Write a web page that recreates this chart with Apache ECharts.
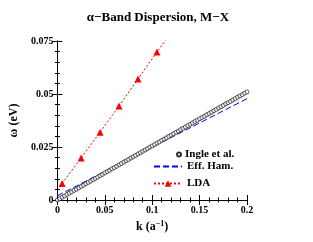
<!DOCTYPE html>
<html><head><meta charset="utf-8">
<script src="https://cdn.jsdelivr.net/npm/echarts@6/dist/echarts.min.js"></script>
<style>html,body{margin:0;padding:0;background:#fff}#c{width:313px;height:242px}</style>
</head><body><div id="c"></div>
<script>
var xTicks = [0, 0.05, 0.1, 0.15, 0.2];
var yTicks = [0, 0.025, 0.05, 0.075];
var ingleK = [0,0.0025,0.005,0.0075,0.01,0.0125,0.015,0.0175,0.02,0.0225,0.025,0.0275,0.03,0.0325,0.035,0.0375,0.04,0.0425,0.045,0.0475,0.05,0.0525,0.055,0.0575,0.06,0.0625,0.065,0.0675,0.07,0.0725,0.075,0.0775,0.08,0.0825,0.085,0.0875,0.09,0.0925,0.095,0.0975,0.1,0.1025,0.105,0.1075,0.11,0.1125,0.115,0.1175,0.12,0.1225,0.125,0.1275,0.13,0.1325,0.135,0.1375,0.14,0.1425,0.145,0.1475,0.15,0.1525,0.155,0.1575,0.16,0.1625,0.165,0.1675,0.17,0.1725,0.175,0.1775,0.18,0.1825,0.185,0.1875,0.19,0.1925,0.195,0.1975,0.2];
var ingleW = [0,0.0006,0.0013,0.0019,0.0026,0.0032,0.0038,0.0045,0.0051,0.0057,0.0064,0.0070,0.0077,0.0083,0.0089,0.0096,0.0102,0.0108,0.0115,0.0121,0.0128,0.0134,0.0140,0.0147,0.0153,0.0159,0.0166,0.0172,0.0179,0.0185,0.0191,0.0198,0.0204,0.0210,0.0217,0.0223,0.0230,0.0236,0.0242,0.0249,0.0255,0.0261,0.0268,0.0274,0.0281,0.0287,0.0293,0.0300,0.0306,0.0312,0.0319,0.0325,0.0332,0.0338,0.0344,0.0351,0.0357,0.0363,0.0370,0.0376,0.0383,0.0389,0.0395,0.0402,0.0408,0.0414,0.0421,0.0427,0.0434,0.0440,0.0446,0.0453,0.0459,0.0465,0.0472,0.0478,0.0485,0.0491,0.0497,0.0504,0.0510];
var effK = [0, 0.2];
var effW = [0.002, 0.0478];
var ldaK = [0.005, 0.025, 0.045, 0.065, 0.085, 0.105, 0.125];
var ldaW = [0.0078, 0.0198, 0.032, 0.0443, 0.0571, 0.0698, 0.082];

function zip(a, b) { return a.map(function (v, i) { return [v, b[i]]; }); }
var font = 'Liberation Serif';
var chart = echarts.init(document.getElementById('c'));
var axisCommon = {
  type: 'value',
  axisLine: { show: true, lineStyle: { color: '#000', width: 1 } },
  axisTick: { show: true, inside: true, length: 5, lineStyle: { color: '#000' } },
  minorTick: { show: true, splitNumber: 5, length: 2.5, lineStyle: { color: '#000' } },
  splitLine: { show: false },
  axisLabel: { color: '#000', fontFamily: font, fontWeight: 'bold', fontSize: 10 }
};
function ax(extra) { return Object.assign({}, JSON.parse(JSON.stringify(axisCommon)), extra); }
chart.setOption({
  animation: false,
  title: {
    text: 'α−Band Dispersion, M−X', left: 153, top: 6, textAlign: 'center',
    textStyle: { fontFamily: font, fontWeight: 'bold', fontSize: 13, color: '#000' }
  },
  grid: { left: 56, right: 66, top: 41, bottom: 42 },
  legend: [
    { data: ['Ingle et al.'], orient: 'vertical', left: 171, top: 144, itemWidth: 4, itemHeight: 4, itemGap: 4,
      textStyle: { fontFamily: font, fontWeight: 'bold', fontSize: 11, color: '#000', padding: [0, 0, 0, -1] } },
    { data: [{ name: 'Eff. Ham.', itemStyle: { opacity: 0 } }, 'LDA'], orient: 'vertical', left: 148, top: 156, itemWidth: 28, itemHeight: 8, itemGap: 6,
      textStyle: { fontFamily: font, fontWeight: 'bold', fontSize: 11, color: '#000', padding: [0, 0, 0, 0] } }
  ],
  xAxis: [
    ax({ min: 0, max: 0.2, interval: 0.05, position: 'bottom',
      name: 'k (a{sup|−1})', nameLocation: 'middle', nameGap: 20,
      nameTextStyle: { fontFamily: font, fontWeight: 'bold', fontSize: 12, color: '#000',
        rich: { sup: { fontFamily: font, fontWeight: 'bold', fontSize: 8, verticalAlign: 'top', padding: [0, 0, 6, 0] } } },
      axisLabel: { color: '#000', fontFamily: font, fontWeight: 'bold', fontSize: 10, margin: 5,
        formatter: function (v) { return xTicks.indexOf(v) >= 0 ? String(v) : ''; } } }),
    ax({ min: 0, max: 0.2, interval: 0.05, position: 'top', axisLabel: { show: false } })
  ],
  yAxis: [
    ax({ min: 0, max: 0.075, interval: 0.025, position: 'left',
      name: 'ω (eV)', nameLocation: 'middle', nameGap: 27, nameRotate: 90,
      nameTextStyle: { fontFamily: font, fontWeight: 'bold', fontSize: 12, color: '#000' },
      axisLabel: { color: '#000', fontFamily: font, fontWeight: 'bold', fontSize: 10, margin: 4,
        formatter: function (v) { return yTicks.indexOf(v) >= 0 ? String(v) : ''; } } }),
    ax({ min: 0, max: 0.075, interval: 0.025, position: 'right', axisLabel: { show: false } })
  ],
  series: [
    { name: 'Ingle et al.', type: 'scatter', data: zip(ingleK, ingleW), symbol: 'circle', symbolSize: 4,
      itemStyle: { color: '#fff', borderColor: '#000', borderWidth: 0.8 }, z: 3 },
    { name: 'Eff. Ham.', type: 'line', data: zip(effK, effW), showSymbol: false, symbol: 'none',
      lineStyle: { color: '#0000ff', width: 1, type: [6, 3] }, itemStyle: { color: '#0000ff' }, z: 2 },
    { name: 'LDA', type: 'line', data: zip(ldaK, ldaW), symbol: 'triangle', symbolSize: 7, clip: true,
      lineStyle: { color: '#ff0000', width: 1, type: [2, 2] }, itemStyle: { color: '#ff0000' }, z: 4 }
  ]
});
</script></body></html>
